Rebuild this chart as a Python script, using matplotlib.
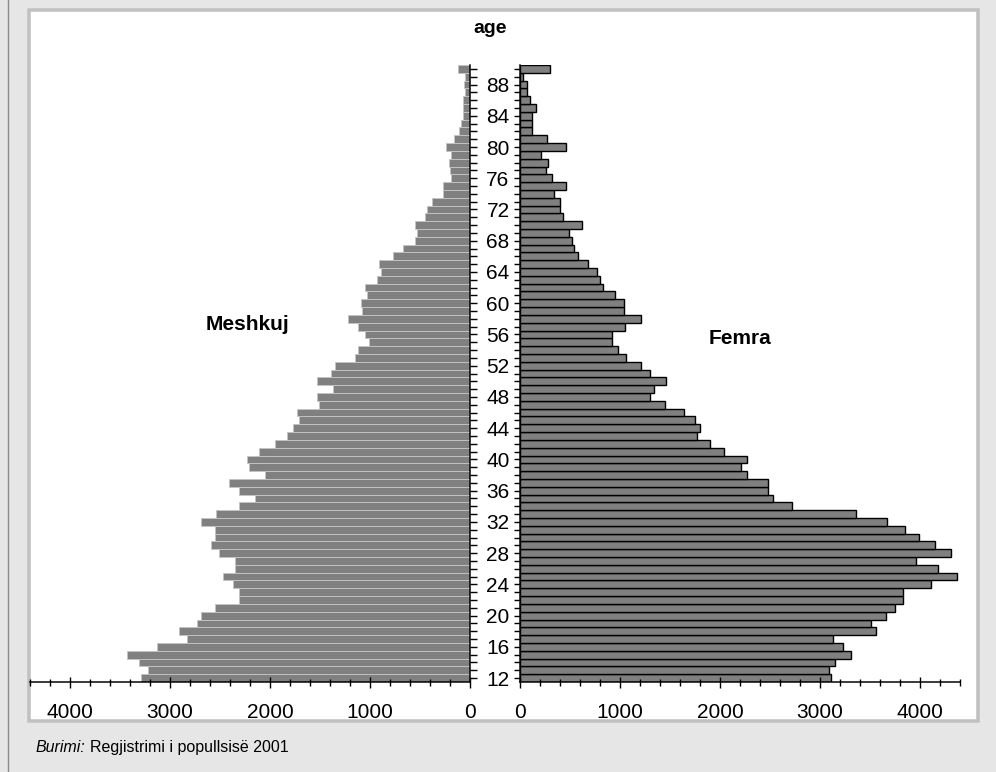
import matplotlib
matplotlib.use("Agg")
import matplotlib.pyplot as plt
from matplotlib import font_manager
from matplotlib.patches import Rectangle
from matplotlib.lines import Line2D
from matplotlib.ticker import MultipleLocator, FixedLocator

plt.rcParams['font.family'] = ['Liberation Sans', 'DejaVu Sans']

# ---------------- data ----------------
ages = list(range(12, 91))
male = [3290, 3217, 3310, 3433, 3133, 2833, 2910, 2727, 2690, 2550,
        2310, 2310, 2367, 2473, 2350, 2350, 2510, 2593, 2550, 2550,
        2690, 2543, 2307, 2150, 2310, 2407, 2050, 2210, 2227, 2110,
        1947, 1827, 1767, 1707, 1727, 1510, 1527, 1373, 1527, 1393,
        1350, 1150, 1117, 1010, 1050, 1117, 1217, 1077, 1093, 1033,
        1050, 933, 893, 910, 767, 667, 550, 533, 550, 450,
        430, 385, 270, 270, 190, 200, 215, 190, 245, 165,
        110, 95, 75, 75, 70, 50, 60, 50, 117]
female = [3113, 3088, 3152, 3312, 3230, 3131, 3556, 3513, 3655, 3754,
          3832, 3825, 4108, 4374, 4175, 3956, 4310, 4151, 3991, 3850,
          3673, 3361, 2717, 2533, 2476, 2476, 2274, 2214, 2274, 2037,
          1896, 1772, 1797, 1754, 1637, 1453, 1301, 1336, 1460, 1301,
          1212, 1060, 982, 919, 919, 1053, 1212, 1035, 1035, 954,
          834, 798, 770, 681, 575, 540, 515, 494, 618, 434,
          398, 398, 335, 458, 320, 257, 281, 214, 458, 274,
          115, 115, 115, 158, 97, 73, 73, 34, 299]
age_ticks = list(range(12, 89, 4))
x_ticks = [0, 1000, 2000, 3000, 4000]
x_max = 4400
title_txt = "age"
male_lbl = "Meshkuj"
female_lbl = "Femra"
src_lbl = "Burimi:"
src_txt = "Regjistrimi i popullsisë 2001"

# ---------------- figure ----------------
W, H = 996, 772
fig = plt.figure(figsize=(W / 100, H / 100), dpi=100)
fig.patch.set_facecolor('#e6e6e6')

def fx(x):
    return x / W

def fy(y):
    return 1 - y / H

PT = 72 / 100  # points per pixel

# white panel with gray border
panel = Rectangle((fx(28.5), fy(721)), (977.5 - 28.5) / W, (721 - 9.5) / H,
                  transform=fig.transFigure, facecolor='white',
                  edgecolor='#c0c0c0', linewidth=3.5 * PT, zorder=-10)
fig.patches.append(panel)
fig.lines.append(Line2D([fx(8), fx(8)], [0, 1], transform=fig.transFigure,
                        color='#8c8c8c', linewidth=1.4 * PT, zorder=-9))

ax_bottom = fy(682)
ax_h = (682 - 65) / H
axL = fig.add_axes([fx(30), ax_bottom, 440 / W, ax_h])
axR = fig.add_axes([fx(520), ax_bottom, 440 / W, ax_h])

for ax in (axL, axR):
    ax.set_facecolor('none')
    ax.set_ylim(11.5, 90.5)
    for s in ax.spines.values():
        s.set_linewidth(1.5 * PT)
    ax.spines['top'].set_visible(False)

axL.barh(ages, male, height=1.0, color='#808080', edgecolor='#c4c4c4',
         linewidth=0.9 * PT)
axR.barh(ages, female, height=1.0, color='#808080', edgecolor='black',
         linewidth=1.4 * PT)

axL.set_xlim(x_max, 0)
axR.set_xlim(0, x_max)

axL.spines['left'].set_visible(False)
axR.spines['right'].set_visible(False)

# y ticks
axL.yaxis.tick_right()
axR.yaxis.tick_left()
for ax in (axL, axR):
    ax.yaxis.set_major_locator(FixedLocator(age_ticks))
    ax.yaxis.set_minor_locator(MultipleLocator(1))
    ax.tick_params(axis='y', which='both', direction='out', length=6.5 * PT,
                   width=1.4 * PT, color='black')
axL.tick_params(axis='y', labelright=False, labelleft=False)
axR.set_yticklabels([str(a) for a in age_ticks])
axR.tick_params(axis='y', which='major', labelsize=15, pad=4 * PT)

# x ticks
for ax in (axL, axR):
    ax.xaxis.set_major_locator(FixedLocator(x_ticks))
    ax.xaxis.set_minor_locator(MultipleLocator(200))
    ax.set_xticklabels([str(v) for v in x_ticks])
    ax.tick_params(axis='x', which='major', direction='inout', length=11 * PT,
                   width=1.4 * PT, labelsize=15, pad=15 * PT)
    ax.tick_params(axis='x', which='minor', direction='inout', length=7 * PT,
                   width=1.4 * PT)

# texts
fig.text(fx(490), fy(33), title_txt, ha='center', va='baseline',
         fontsize=14, fontweight='bold')
fig.text(fx(247.5), fy(330), male_lbl, ha='center', va='baseline',
         fontsize=15, fontweight='bold')
fig.text(fx(740), fy(344), female_lbl, ha='center', va='baseline',
         fontsize=15, fontweight='bold')

names = {f.name for f in font_manager.fontManager.ttflist}
if 'Liberation Sans Narrow' in names:
    fam = ['Liberation Sans Narrow', 'DejaVu Sans']
    fs = 14
else:
    fam = ['Liberation Sans', 'DejaVu Sans']
    fs = 11.5
t1 = fig.text(fx(35), fy(752), src_lbl, ha='left', va='baseline',
              fontsize=fs, style='italic', family=fam)
fig.canvas.draw()
bb = t1.get_window_extent()
fig.text((bb.x1 + 5) / W, fy(752), src_txt, ha='left', va='baseline',
         fontsize=fs, family=fam)

fig.savefig('out.png', dpi=100, facecolor=fig.get_facecolor())
